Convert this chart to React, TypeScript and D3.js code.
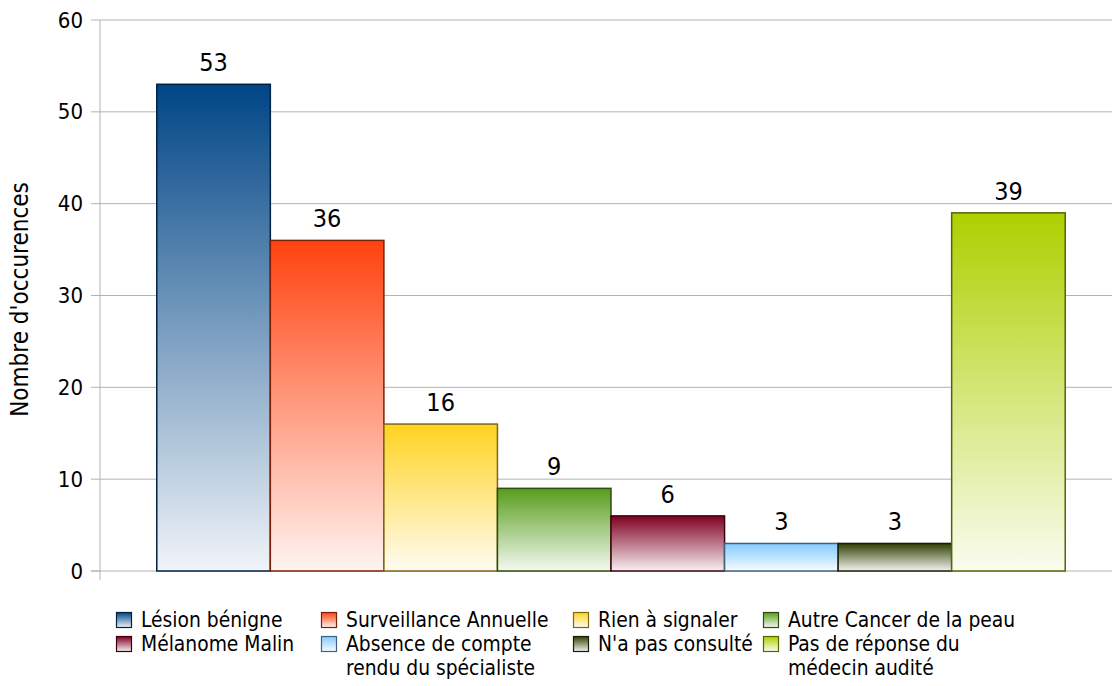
import React from "react";
import * as d3 from "d3";

const categories = [
  "Lésion bénigne",
  "Surveillance Annuelle",
  "Rien à signaler",
  "Autre Cancer de la peau",
  "Mélanome Malin",
  "Absence de compte rendu du spécialiste",
  "N'a pas consulté",
  "Pas de réponse du médecin audité",
];
const values = [53, 36, 16, 9, 6, 3, 3, 39];
const colors = ["#004586", "#ff420e", "#ffd320", "#579d1c", "#7e0021", "#83caff", "#314004", "#aecf00"];
const legendLines = [
  ["Lésion bénigne"],
  ["Surveillance Annuelle"],
  ["Rien à signaler"],
  ["Autre Cancer de la peau"],
  ["Mélanome Malin"],
  ["Absence de compte", "rendu du spécialiste"],
  ["N'a pas consulté"],
  ["Pas de réponse du", "médecin audité"],
];
const yTicks = [0, 10, 20, 30, 40, 50, 60];
const yTitle = "Nombre d'occurences";

const W = 1112, H = 686;
const FONT = "'DejaVu Sans Condensed', 'DejaVu Sans', sans-serif";

export default function App() {
  const x = d3.scaleBand<number>().domain(d3.range(categories.length)).range([100, 1122]).paddingInner(0).paddingOuter(0.5);
  const y = d3.scaleLinear().domain([0, 60]).range([571, 20]);
  const light = (c: string) => d3.interpolateRgb(c, "#ffffff")(0.94);
  const dark = (c: string) => d3.color(c)!.darker(2).formatHex();
  const legendCols = [116, 321, 573, 763];
  const legendRows = [620, 644];

  return (
    <div style={{ position: "absolute", left: 0, top: 0 }}>
      <svg width={W} height={H} style={{ display: "block", fontFamily: FONT }}>
        <defs>
          {colors.map((c, i) => (
            <linearGradient key={i} id={`g${i}`} x1="0" y1="0" x2="0" y2="1">
              <stop offset="0" stopColor={c} />
              <stop offset="1" stopColor={light(c)} />
            </linearGradient>
          ))}
        </defs>
        <rect width={W} height={H} fill="#fff" />
        {yTicks.map((t) => (
          <g key={t}>
            {t > 0 && <line x1={100} x2={W} y1={y(t)} y2={y(t)} stroke="#b3b3b3" strokeWidth={1} />}
            <line x1={91} x2={100} y1={y(t)} y2={y(t)} stroke="#b3b3b3" strokeWidth={1} />
            <text x={83} y={y(t)} textAnchor="end" dominantBaseline="central" fontSize={22} fill="#000">
              {t}
            </text>
          </g>
        ))}
        <line x1={100} x2={100} y1={y(60)} y2={y(0) + 9} stroke="#b3b3b3" strokeWidth={1} />
        <line x1={91} x2={W} y1={y(0)} y2={y(0)} stroke="#b3b3b3" strokeWidth={1} />
        <text transform={`translate(20,${(y(0) + y(60)) / 2 + 4}) rotate(-90)`} textAnchor="middle" dominantBaseline="central" fontSize={24} fill="#000">
          {yTitle}
        </text>
        {values.map((v, i) => (
          <g key={i}>
            <rect
              x={x(i)!}
              y={y(v)}
              width={x.bandwidth()}
              height={y(0) - y(v)}
              fill={`url(#g${i})`}
              stroke={dark(colors[i])}
              strokeWidth={1.5}
            />
            <text x={x(i)! + x.bandwidth() / 2} y={y(v) - 13} textAnchor="middle" fontSize={25} fill="#000">
              {v}
            </text>
          </g>
        ))}
        {categories.map((c, i) => {
          const cx = legendCols[i % 4];
          const ry = legendRows[Math.floor(i / 4)];
          return (
            <g key={c}>
              <rect x={cx + 0.5} y={ry - 7.5} width={15} height={15} fill={`url(#g${i})`} stroke={dark(colors[i])} strokeWidth={1.2} />
              <text x={cx + 25} y={ry} fontSize={20.8} fill="#000">
                {legendLines[i].map((l, k) => (
                  <tspan key={k} x={cx + 25} dy={k === 0 ? "0.35em" : 24}>
                    {l}
                  </tspan>
                ))}
              </text>
            </g>
          );
        })}
      </svg>
    </div>
  );
}
